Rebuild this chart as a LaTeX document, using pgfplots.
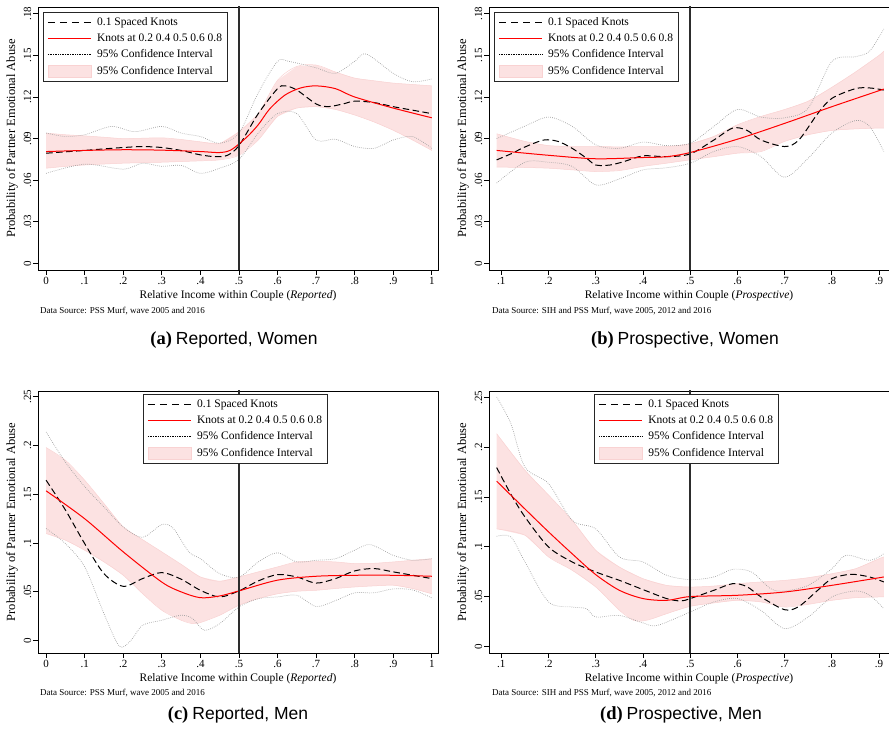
\documentclass[border=0pt]{standalone}
\usepackage{fontspec}
\newfontfamily\tnr{Liberation Serif}
\newfontfamily\capsans{Liberation Sans}
\usepackage{pgfplots}
\pgfplotsset{compat=1.18}
\definecolor{bandfill}{RGB}{252,226,226}
\definecolor{bandedge}{RGB}{249,210,210}
\definecolor{cigray}{RGB}{160,160,160}
\definecolor{vline}{RGB}{45,45,45}
\pgfplotsset{
  panel/.style={
    scale only axis, width=400pt,
    axis line style={line width=0.9pt},
    tick align=outside, xtick pos=bottom, ytick pos=left,
    major tick length=5pt, tick style={line width=0.9pt,black},
    ticklabel style={font=\tnr\fontsize{11}{12}\selectfont},
    yticklabel style={rotate=90, anchor=south, inner sep=1.5pt},
    xticklabel style={inner sep=2pt},
    label style={font=\tnr\fontsize{11.5}{13}\selectfont},
    ylabel style={at={(axis description cs:-0.065,0.5)}, anchor=center, font=\tnr\fontsize{12.5}{14}\selectfont},
    xlabel style={at={(axis description cs:0.5,0)}, anchor=center, yshift=-26pt},
    ylabel={Probability of Partner Emotional Abuse},
    legend style={anchor=north west, draw=black!85, line width=0.7pt, fill=white,
      font=\tnr\fontsize{11.5}{13}\selectfont, inner xsep=4pt, inner ysep=2pt,
      row sep=0pt, column sep=4pt, cells={anchor=west},
      nodes={inner xsep=1.5pt, inner ysep=1.7pt, text height=9.5pt, text depth=3.3pt}},
  },
  rep/.style={xmin=-0.021, xmax=1.016, xtick={0,0.1,...,1.0},
    xticklabels={0,.1,.2,.3,.4,.5,.6,.7,.8,.9,1},
    xlabel={Relative Income within Couple (\textit{Reported})}},
  pro/.style={xmin=0.0738, xmax=0.921, xtick={0.1,0.2,...,0.9},
    xticklabels={.1,.2,.3,.4,.5,.6,.7,.8,.9},
    xlabel={Relative Income within Couple (\textit{Prospective})}},
  women/.style={height=263pt, ymin=-0.0046, ymax=0.1848, ytick={0,0.03,0.06,0.09,0.12,0.15,0.18},
    yticklabels={0,.03,.06,.09,.12,.15,.18}},
  men/.style={height=262pt, ytick={0,0.05,0.1,0.15,0.2,0.25},
    yticklabels={0,.05,.1,.15,.2,.25}},
  bandf/.style={fill=bandfill, draw=none, forget plot},
  dashk/.style={black, line width=1pt, dash pattern=on 6.5pt off 3.5pt, smooth, forget plot},
  redl/.style={red, line width=1pt, smooth, forget plot},
  dotci/.style={cigray, line width=0.7pt, dash pattern=on 0.7pt off 1.3pt, smooth, forget plot},
  bandl/.style={bandedge, line width=0.5pt, smooth, forget plot},
  vln/.style={vline, line width=1.7pt, forget plot},
}
\newcommand{\legendstuff}{%
  \addlegendimage{legend image code/.code={\draw[black, line width=1.1pt, dash pattern=on 7pt off 5pt] (0pt,0pt) -- (43pt,0pt);}}
  \addlegendentry{0.1 Spaced Knots}
  \addlegendimage{legend image code/.code={\draw[red, line width=1.3pt] (0pt,0pt) -- (43pt,0pt);}}
  \addlegendentry{Knots at 0.2 0.4 0.5 0.6 0.8\hspace{5pt}}
  \addlegendimage{legend image code/.code={\draw[black, line width=0.8pt, dash pattern=on 0.8pt off 0.9pt] (0pt,0pt) -- (43pt,0pt);}}
  \addlegendentry{95\% Confidence Interval}
  \addlegendimage{legend image code/.code={\fill[bandfill, draw=bandedge, line width=0.5pt] (0pt,-6pt) rectangle (43pt,6pt);}}
  \addlegendentry{95\% Confidence Interval}
}
\newcommand{\subcap}[2]{{\tnr\bfseries\fontsize{18.5}{20}\selectfont (#1)}\hspace{4pt}{\capsans\fontsize{17.5}{20}\selectfont #2}}
\begin{document}
\begin{tikzpicture}
\useasboundingbox (0,0) rectangle (889pt,731pt);
% ---------------- (a)
\begin{axis}[panel, rep, women, name=axA, at={(38pt,461pt)}, anchor=south west,
  legend style={at={(0.0125,0.981)}}]
\addplot[bandf] coordinates {(0,0.0940) (0.05,0.0928) (0.1,0.0920) (0.15,0.0910) (0.2,0.0900) (0.25,0.0903) (0.3,0.0906) (0.35,0.0894) (0.4,0.0877) (0.45,0.0865) (0.5,0.0950) (0.55,0.108) (0.6,0.132) (0.65,0.142) (0.7,0.143) (0.75,0.138) (0.8,0.1336) (0.85,0.1317) (0.9,0.130) (0.95,0.129) (1,0.128)
 (1,0.0815) (0.95,0.089) (0.9,0.096) (0.85,0.102) (0.8,0.107) (0.75,0.111) (0.7,0.113) (0.65,0.112) (0.6,0.106) (0.55,0.089) (0.5,0.078) (0.45,0.0747) (0.4,0.074) (0.35,0.0735) (0.3,0.073) (0.25,0.0727) (0.2,0.0723) (0.15,0.0717) (0.1,0.071) (0.05,0.070) (0,0.0687)};
\addplot[bandl] coordinates {(0,0.0940) (0.05,0.0928) (0.1,0.0920) (0.15,0.0910) (0.2,0.0900) (0.25,0.0903) (0.3,0.0906) (0.35,0.0894) (0.4,0.0877) (0.45,0.0865) (0.5,0.0950) (0.55,0.108) (0.6,0.132) (0.65,0.142) (0.7,0.143) (0.75,0.138) (0.8,0.1336) (0.85,0.1317) (0.9,0.130) (0.95,0.129) (1,0.128)};
\addplot[bandl] coordinates {(1,0.0815) (0.95,0.089) (0.9,0.096) (0.85,0.102) (0.8,0.107) (0.75,0.111) (0.7,0.113) (0.65,0.112) (0.6,0.106) (0.55,0.089) (0.5,0.078) (0.45,0.0747) (0.4,0.074) (0.35,0.0735) (0.3,0.073) (0.25,0.0727) (0.2,0.0723) (0.15,0.0717) (0.1,0.071) (0.05,0.070) (0,0.0687)};
\addplot[dotci] coordinates {(0,0.094) (0.05,0.0915) (0.1,0.0928) (0.17,0.0988) (0.23,0.095) (0.3,0.0988) (0.35,0.094) (0.4,0.0915) (0.45,0.0867) (0.5,0.094) (0.55,0.123) (0.6,0.1456) (0.63,0.1456) (0.7,0.141) (0.75,0.137) (0.8,0.1456) (0.83,0.151) (0.9,0.137) (0.95,0.131) (1,0.133)};
\addplot[dotci] coordinates {(0,0.065) (0.1,0.0716) (0.2,0.068) (0.25,0.0723) (0.3,0.070) (0.35,0.0707) (0.4,0.065) (0.45,0.0687) (0.5,0.075) (0.55,0.094) (0.6,0.108) (0.65,0.108) (0.7,0.089) (0.75,0.0896) (0.8,0.0843) (0.85,0.083) (0.9,0.089) (0.95,0.0915) (1,0.083)};
\addplot[dashk] coordinates {(0,0.0795) (0.05,0.0805) (0.1,0.0815) (0.15,0.0826) (0.2,0.0836) (0.25,0.0843) (0.3,0.0836) (0.35,0.0815) (0.4,0.0783) (0.44,0.0770) (0.47,0.0780) (0.5,0.0850) (0.55,0.108) (0.6,0.126) (0.62,0.128) (0.65,0.125) (0.7,0.115) (0.73,0.113) (0.77,0.115) (0.8,0.117) (0.85,0.116) (0.9,0.113) (0.95,0.1105) (1,0.108)};
\addplot[redl] coordinates {(0,0.0807) (0.1,0.0815) (0.2,0.082) (0.3,0.0817) (0.4,0.0807) (0.45,0.0800) (0.48,0.0820) (0.52,0.0910) (0.55,0.100) (0.58,0.1115) (0.62,0.1215) (0.66,0.1265) (0.7,0.128) (0.75,0.126) (0.8,0.120) (0.9,0.112) (1,0.105)};
\addplot[vln] coordinates {(0.5,-0.1) (0.5,0.3)};
\legendstuff
\end{axis}
% ---------------- (b)
\begin{axis}[panel, pro, women, name=axB, at={(489pt,461pt)}, anchor=south west,
  legend style={at={(0.0125,0.981)}}]
\addplot[bandf] coordinates {(0.09,0.0935) (0.15,0.088) (0.2,0.085) (0.25,0.0843) (0.3,0.0843) (0.35,0.0841) (0.4,0.0843) (0.45,0.0843) (0.5,0.0863) (0.55,0.0916) (0.6,0.100) (0.65,0.106) (0.7,0.111) (0.75,0.117) (0.8,0.127) (0.85,0.138) (0.9,0.150) (0.91,0.153)
 (0.91,0.0976) (0.9,0.0976) (0.85,0.097) (0.8,0.0959) (0.75,0.0928) (0.7,0.088) (0.65,0.0807) (0.6,0.0795) (0.55,0.077) (0.5,0.0747) (0.45,0.0723) (0.4,0.070) (0.35,0.067) (0.3,0.0663) (0.25,0.0675) (0.2,0.0687) (0.15,0.0692) (0.09,0.0695)};
\addplot[bandl] coordinates {(0.09,0.0935) (0.15,0.088) (0.2,0.085) (0.25,0.0843) (0.3,0.0843) (0.35,0.0841) (0.4,0.0843) (0.45,0.0843) (0.5,0.0863) (0.55,0.0916) (0.6,0.100) (0.65,0.106) (0.7,0.111) (0.75,0.117) (0.8,0.127) (0.85,0.138) (0.9,0.150) (0.91,0.153)};
\addplot[bandl] coordinates {(0.91,0.0976) (0.9,0.0976) (0.85,0.097) (0.8,0.0959) (0.75,0.0928) (0.7,0.088) (0.65,0.0807) (0.6,0.0795) (0.55,0.077) (0.5,0.0747) (0.45,0.0723) (0.4,0.070) (0.35,0.067) (0.3,0.0663) (0.25,0.0675) (0.2,0.0687) (0.15,0.0692) (0.09,0.0695)};
\addplot[dotci] coordinates {(0.09,0.090) (0.15,0.099) (0.2,0.1055) (0.25,0.0988) (0.3,0.0855) (0.35,0.083) (0.4,0.0875) (0.45,0.085) (0.5,0.0867) (0.55,0.0988) (0.6,0.111) (0.65,0.1055) (0.7,0.105) (0.75,0.112) (0.8,0.1456) (0.85,0.149) (0.88,0.153) (0.91,0.169)};
\addplot[dotci] coordinates {(0.09,0.058) (0.15,0.073) (0.2,0.073) (0.25,0.070) (0.3,0.0567) (0.35,0.061) (0.4,0.0675) (0.45,0.069) (0.5,0.0723) (0.55,0.0807) (0.6,0.0843) (0.65,0.077) (0.7,0.0622) (0.75,0.076) (0.8,0.094) (0.85,0.103) (0.88,0.0988) (0.91,0.0807)};
\addplot[dashk] coordinates {(0.09,0.0747) (0.12,0.079) (0.15,0.084) (0.19,0.089) (0.22,0.088) (0.25,0.083) (0.28,0.076) (0.3,0.071) (0.33,0.071) (0.36,0.0735) (0.4,0.0776) (0.45,0.077) (0.5,0.079) (0.55,0.089) (0.59,0.0976) (0.62,0.096) (0.65,0.089) (0.7,0.0843) (0.73,0.089) (0.77,0.108) (0.8,0.119) (0.85,0.126) (0.88,0.1265) (0.91,0.125)};
\addplot[redl] coordinates {(0.09,0.0815) (0.2,0.078) (0.3,0.0755) (0.4,0.0764) (0.45,0.077) (0.5,0.080) (0.6,0.0896) (0.7,0.101) (0.8,0.113) (0.91,0.1257)};
\addplot[vln] coordinates {(0.5,-0.1) (0.5,0.3)};
\legendstuff
\end{axis}
% ---------------- (c)
\begin{axis}[panel, rep, men, ymin=-0.0127, ymax=0.256, name=axC, at={(38pt,78pt)}, anchor=south west,
  legend style={at={(0.2625,0.9885)}}]
\addplot[bandf] coordinates {(0,0.198) (0.05,0.185) (0.1,0.1645) (0.15,0.1406) (0.2,0.1166) (0.25,0.1036) (0.3,0.091) (0.35,0.0783) (0.4,0.0653) (0.45,0.0609) (0.5,0.0653) (0.55,0.0705) (0.6,0.0756) (0.65,0.0807) (0.7,0.0814) (0.75,0.0807) (0.8,0.079) (0.85,0.0793) (0.9,0.0807) (0.95,0.0824) (1,0.084)
 (1,0.048) (0.95,0.0534) (0.9,0.0568) (0.85,0.0561) (0.8,0.055) (0.75,0.0534) (0.7,0.0516) (0.65,0.0506) (0.6,0.048) (0.55,0.0431) (0.5,0.0363) (0.45,0.026) (0.4,0.0185) (0.38,0.0174) (0.35,0.0209) (0.3,0.0311) (0.25,0.0482) (0.2,0.067) (0.15,0.0807) (0.1,0.0927) (0.05,0.103) (0,0.1098)};
\addplot[bandl] coordinates {(0,0.198) (0.05,0.185) (0.1,0.1645) (0.15,0.1406) (0.2,0.1166) (0.25,0.1036) (0.3,0.091) (0.35,0.0783) (0.4,0.0653) (0.45,0.0609) (0.5,0.0653) (0.55,0.0705) (0.6,0.0756) (0.65,0.0807) (0.7,0.0814) (0.75,0.0807) (0.8,0.079) (0.85,0.0793) (0.9,0.0807) (0.95,0.0824) (1,0.084)};
\addplot[bandl] coordinates {(1,0.048) (0.95,0.0534) (0.9,0.0568) (0.85,0.0561) (0.8,0.055) (0.75,0.0534) (0.7,0.0516) (0.65,0.0506) (0.6,0.048) (0.55,0.0431) (0.5,0.0363) (0.45,0.026) (0.4,0.0185) (0.38,0.0174) (0.35,0.0209) (0.3,0.0311) (0.25,0.0482) (0.2,0.067) (0.15,0.0807) (0.1,0.0927) (0.05,0.103) (0,0.1098)};
\addplot[dotci] coordinates {(0,0.214) (0.05,0.183) (0.1,0.158) (0.15,0.137) (0.2,0.1166) (0.25,0.106) (0.3,0.119) (0.33,0.115) (0.37,0.091) (0.4,0.084) (0.45,0.0687) (0.5,0.065) (0.55,0.0807) (0.6,0.090) (0.65,0.0807) (0.7,0.0824) (0.75,0.084) (0.8,0.0927) (0.84,0.0985) (0.9,0.0875) (0.95,0.0824) (1,0.084)};
\addplot[dotci] coordinates {(0,0.115) (0.05,0.0995) (0.1,0.0756) (0.15,0.0277) (0.19,-0.0058) (0.22,0.0003) (0.25,0.0157) (0.3,0.0209) (0.35,0.026) (0.38,0.0226) (0.41,0.0106) (0.45,0.0174) (0.5,0.0345) (0.55,0.043) (0.6,0.0448) (0.65,0.0465) (0.7,0.035) (0.75,0.041) (0.8,0.049) (0.85,0.049) (0.9,0.053) (0.95,0.052) (1,0.0438)};
\addplot[dashk] coordinates {(0,0.1645) (0.05,0.134) (0.1,0.0995) (0.15,0.0687) (0.2,0.0557) (0.25,0.0636) (0.3,0.0698) (0.35,0.063) (0.4,0.0516) (0.45,0.0448) (0.5,0.051) (0.55,0.0612) (0.6,0.0677) (0.65,0.0653) (0.7,0.059) (0.75,0.0636) (0.8,0.0715) (0.85,0.0739) (0.9,0.0705) (1,0.0636)};
\addplot[redl] coordinates {(0,0.1536) (0.1,0.125) (0.2,0.091) (0.3,0.060) (0.35,0.050) (0.4,0.044) (0.45,0.0458) (0.5,0.051) (0.6,0.062) (0.7,0.066) (0.8,0.067) (0.9,0.067) (1,0.066)};
\addplot[vln] coordinates {(0.5,-0.1) (0.5,0.3)};
\legendstuff
\end{axis}
% ---------------- (d)
\begin{axis}[panel, pro, men, ymin=-0.0067, ymax=0.2566, name=axD, at={(489pt,78pt)}, anchor=south west,
  legend style={at={(0.263,0.9885)}}]
\addplot[bandf] coordinates {(0.09,0.2137) (0.15,0.177) (0.2,0.152) (0.25,0.1266) (0.3,0.0965) (0.35,0.0797) (0.4,0.068) (0.45,0.0613) (0.5,0.0596) (0.55,0.0606) (0.6,0.063) (0.65,0.0647) (0.7,0.0663) (0.75,0.069) (0.8,0.073) (0.85,0.078) (0.9,0.0881) (0.91,0.0898)
 (0.91,0.0496) (0.9,0.0496) (0.85,0.0489) (0.8,0.0462) (0.75,0.0422) (0.7,0.0395) (0.65,0.0446) (0.6,0.0462) (0.55,0.0436) (0.5,0.0402) (0.45,0.0328) (0.42,0.0278) (0.4,0.0255) (0.38,0.0261) (0.35,0.0362) (0.3,0.0596) (0.25,0.0764) (0.2,0.0898) (0.15,0.1116) (0.09,0.118)};
\addplot[bandl] coordinates {(0.09,0.2137) (0.15,0.177) (0.2,0.152) (0.25,0.1266) (0.3,0.0965) (0.35,0.0797) (0.4,0.068) (0.45,0.0613) (0.5,0.0596) (0.55,0.0606) (0.6,0.063) (0.65,0.0647) (0.7,0.0663) (0.75,0.069) (0.8,0.073) (0.85,0.078) (0.9,0.0881) (0.91,0.0898)};
\addplot[bandl] coordinates {(0.91,0.0496) (0.9,0.0496) (0.85,0.0489) (0.8,0.0462) (0.75,0.0422) (0.7,0.0395) (0.65,0.0446) (0.6,0.0462) (0.55,0.0436) (0.5,0.0402) (0.45,0.0328) (0.42,0.0278) (0.4,0.0255) (0.38,0.0261) (0.35,0.0362) (0.3,0.0596) (0.25,0.0764) (0.2,0.0898) (0.15,0.1116) (0.09,0.118)};
\addplot[dotci] coordinates {(0.09,0.2506) (0.12,0.224) (0.15,0.180) (0.2,0.1635) (0.25,0.1266) (0.3,0.118) (0.35,0.0898) (0.4,0.0848) (0.45,0.0714) (0.5,0.067) (0.55,0.0697) (0.59,0.0774) (0.63,0.0747) (0.67,0.058) (0.7,0.0556) (0.75,0.0613) (0.8,0.078) (0.83,0.0915) (0.88,0.0864) (0.91,0.0931)};
\addplot[dotci] coordinates {(0.09,0.1106) (0.12,0.110) (0.15,0.0848) (0.2,0.0446) (0.25,0.0395) (0.28,0.0379) (0.3,0.0295) (0.35,0.031) (0.4,0.0235) (0.43,0.021) (0.5,0.0345) (0.55,0.0446) (0.6,0.048) (0.65,0.036) (0.7,0.0178) (0.75,0.0295) (0.8,0.0496) (0.85,0.0556) (0.88,0.0513) (0.91,0.0379)};
\addplot[dashk] coordinates {(0.09,0.1796) (0.12,0.153) (0.15,0.130) (0.2,0.0998) (0.25,0.0848) (0.3,0.0747) (0.35,0.0663) (0.4,0.057) (0.45,0.048) (0.48,0.0456) (0.5,0.048) (0.55,0.0563) (0.59,0.063) (0.62,0.060) (0.65,0.0496) (0.7,0.0368) (0.73,0.040) (0.77,0.0563) (0.8,0.068) (0.84,0.0724) (0.88,0.0697) (0.91,0.0647)};
\addplot[redl] coordinates {(0.09,0.166) (0.15,0.138) (0.2,0.115) (0.25,0.093) (0.3,0.072) (0.35,0.0563) (0.4,0.048) (0.45,0.0462) (0.5,0.050) (0.6,0.0513) (0.7,0.0546) (0.8,0.0613) (0.91,0.0697)};
\addplot[vln] coordinates {(0.5,-0.1) (0.5,0.3)};
\legendstuff
\end{axis}
% notes and captions
\node[anchor=west, inner sep=0pt, font=\tnr\fontsize{9}{10}\selectfont] at ([xshift=2pt,yshift=-41pt]axA.south west) {Data Source: PSS Murf, wave 2005 and 2016};
\node[anchor=west, inner sep=0pt, font=\tnr\fontsize{9}{10}\selectfont] at ([xshift=3pt,yshift=-41pt]axB.south west) {Data Source: SIH and PSS Murf, wave 2005, 2012 and 2016};
\node[anchor=west, inner sep=0pt, font=\tnr\fontsize{9}{10}\selectfont] at ([xshift=2pt,yshift=-40pt]axC.south west) {Data Source: PSS Murf, wave 2005 and 2016};
\node[anchor=west, inner sep=0pt, font=\tnr\fontsize{9}{10}\selectfont] at ([xshift=3pt,yshift=-40pt]axD.south west) {Data Source: SIH and PSS Murf, wave 2005, 2012 and 2016};
\node[inner sep=0pt] at ([xshift=-4pt,yshift=-70pt]axA.south) {\subcap{a}{Reported, Women}};
\node[inner sep=0pt] at ([xshift=-4pt,yshift=-70pt]axB.south) {\subcap{b}{Prospective, Women}};
\node[inner sep=0pt] at ([xshift=0pt,yshift=-62pt]axC.south) {\subcap{c}{Reported, Men}};
\node[inner sep=0pt] at ([xshift=-8pt,yshift=-62pt]axD.south) {\subcap{d}{Prospective, Men}};
\end{tikzpicture}
\end{document}
